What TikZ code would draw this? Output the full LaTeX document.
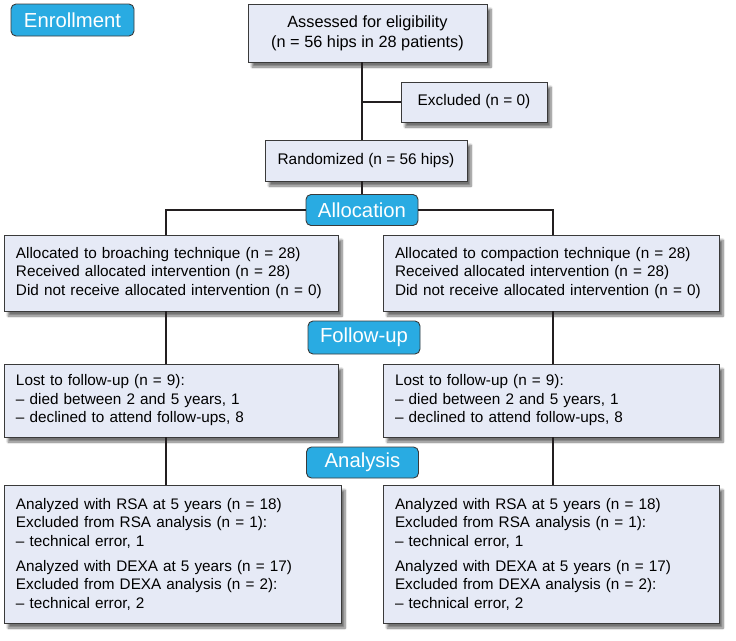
\documentclass[tikz,border=0pt]{standalone}
\usepackage{fontspec}
\setmainfont{Liberation Sans}
\usepackage{tikz}
\usetikzlibrary{shadows.blur}
\definecolor{csBox}{HTML}{E6EAF6}
\definecolor{csTag}{HTML}{29ABE2}
\definecolor{csEdge}{HTML}{3A3A3A}
\definecolor{csLine}{HTML}{231F20}
\tikzset{
  cs-box/.style={
    rectangle, draw=csEdge, line width=0.9pt, fill=csBox,
    blur shadow={shadow xshift=4pt, shadow yshift=-5pt,
      shadow blur steps=8, shadow opacity=55},
    align=center, inner sep=0pt, font=\fontsize{15.4}{20}\selectfont
  },
  cs-list/.style={
    cs-box, align=left, inner xsep=12pt,
    font=\fontsize{15.3}{18.5}\selectfont
  },
  cs-tag/.style={
    rectangle, rounded corners=5pt, draw=csEdge, line width=0.9pt,
    fill=csTag, text=white, inner sep=0pt,
    minimum width=112pt, minimum height=31pt,
    font=\fontsize{20.3}{24}\selectfont
  },
  cs-link/.style={draw=csLine, line width=2.2pt},
}

\begin{document}
\begin{tikzpicture}[x=1pt, y=-1pt]
  \useasboundingbox (0,0) rectangle (736,640);

  % stage tags
  \node[cs-tag, minimum width=123pt, minimum height=32pt] (enroll) at (72.5,20) {Enrollment};
  \node[cs-tag] (alloc) at (362,210) {Allocation};
  \node[cs-tag, minimum height=33pt] (follow) at (364,337.5) {Follow-up};
  \node[cs-tag] (analysis) at (362.5,462.5) {Analysis};

  % enrollment
  \node[cs-box, minimum width=239pt, minimum height=58pt, font=\fontsize{16.3}{20}\selectfont] (assess) at (367.5,33)
    {Assessed for eligibility\\(n = 56 hips in 28 patients)};
  \node[cs-box, minimum width=146pt, minimum height=40pt] (excl) at (474,102) {Excluded (n = 0)};
  \node[cs-box, minimum width=202pt, minimum height=41pt] (rand) at (366,160.5) {Randomized (n = 56 hips)};

  % column positions
  \coordinate (lcol) at (166,0);
  \coordinate (rcol) at (553,0);

  % allocation
  \node[cs-list, text width=310pt, minimum height=76pt] (la) at (171,273)
    {Allocated to broaching technique (n = 28)\\
     Received allocated intervention (n = 28)\\
     Did not receive allocated intervention (n = 0)};
  \node[cs-list, text width=312pt, minimum height=76pt] (ra) at (551,273)
    {Allocated to compaction technique (n = 28)\\
     Received allocated intervention (n = 28)\\
     Did not receive allocated intervention (n = 0)};

  % follow-up
  \node[cs-list, text width=310pt, minimum height=73pt] (lf) at (171,400.5)
    {Lost to follow-up (n = 9):\\
     -- died between 2 and 5 years, 1\\
     -- declined to attend follow-ups, 8};
  \node[cs-list, text width=312pt, minimum height=73pt] (rf) at (551,400.5)
    {Lost to follow-up (n = 9):\\
     -- died between 2 and 5 years, 1\\
     -- declined to attend follow-ups, 8};

  % analysis
  \node[cs-list, text width=313pt, minimum height=138pt] (lan) at (172.5,554)
    {Analyzed with RSA at 5 years (n = 18)\\
     Excluded from RSA analysis (n = 1):\\
     -- technical error, 1\\[6.5pt]
     Analyzed with DEXA at 5 years (n = 17)\\
     Excluded from DEXA analysis (n = 2):\\
     -- technical error, 2};
  \node[cs-list, text width=312pt, minimum height=138pt] (ran) at (551,554)
    {Analyzed with RSA at 5 years (n = 18)\\
     Excluded from RSA analysis (n = 1):\\
     -- technical error, 1\\[6.5pt]
     Analyzed with DEXA at 5 years (n = 17)\\
     Excluded from DEXA analysis (n = 2):\\
     -- technical error, 2};

  % connectors
  \draw[cs-link] (assess.south -| alloc) -- (rand.north -| alloc);
  \draw[cs-link] (excl.west -| alloc) -- (excl.west);
  \draw[cs-link] (rand.south -| alloc) -- (alloc.north);
  \draw[cs-link] (alloc.west) -| (la.north -| lcol);
  \draw[cs-link] (alloc.east) -| (ra.north -| rcol);
  \draw[cs-link] (la.south -| lcol) -- (lf.north -| lcol);
  \draw[cs-link] (ra.south -| rcol) -- (rf.north -| rcol);
  \draw[cs-link] (lf.south -| lcol) -- (lan.north -| lcol);
  \draw[cs-link] (rf.south -| rcol) -- (ran.north -| rcol);
\end{tikzpicture}
\end{document}
